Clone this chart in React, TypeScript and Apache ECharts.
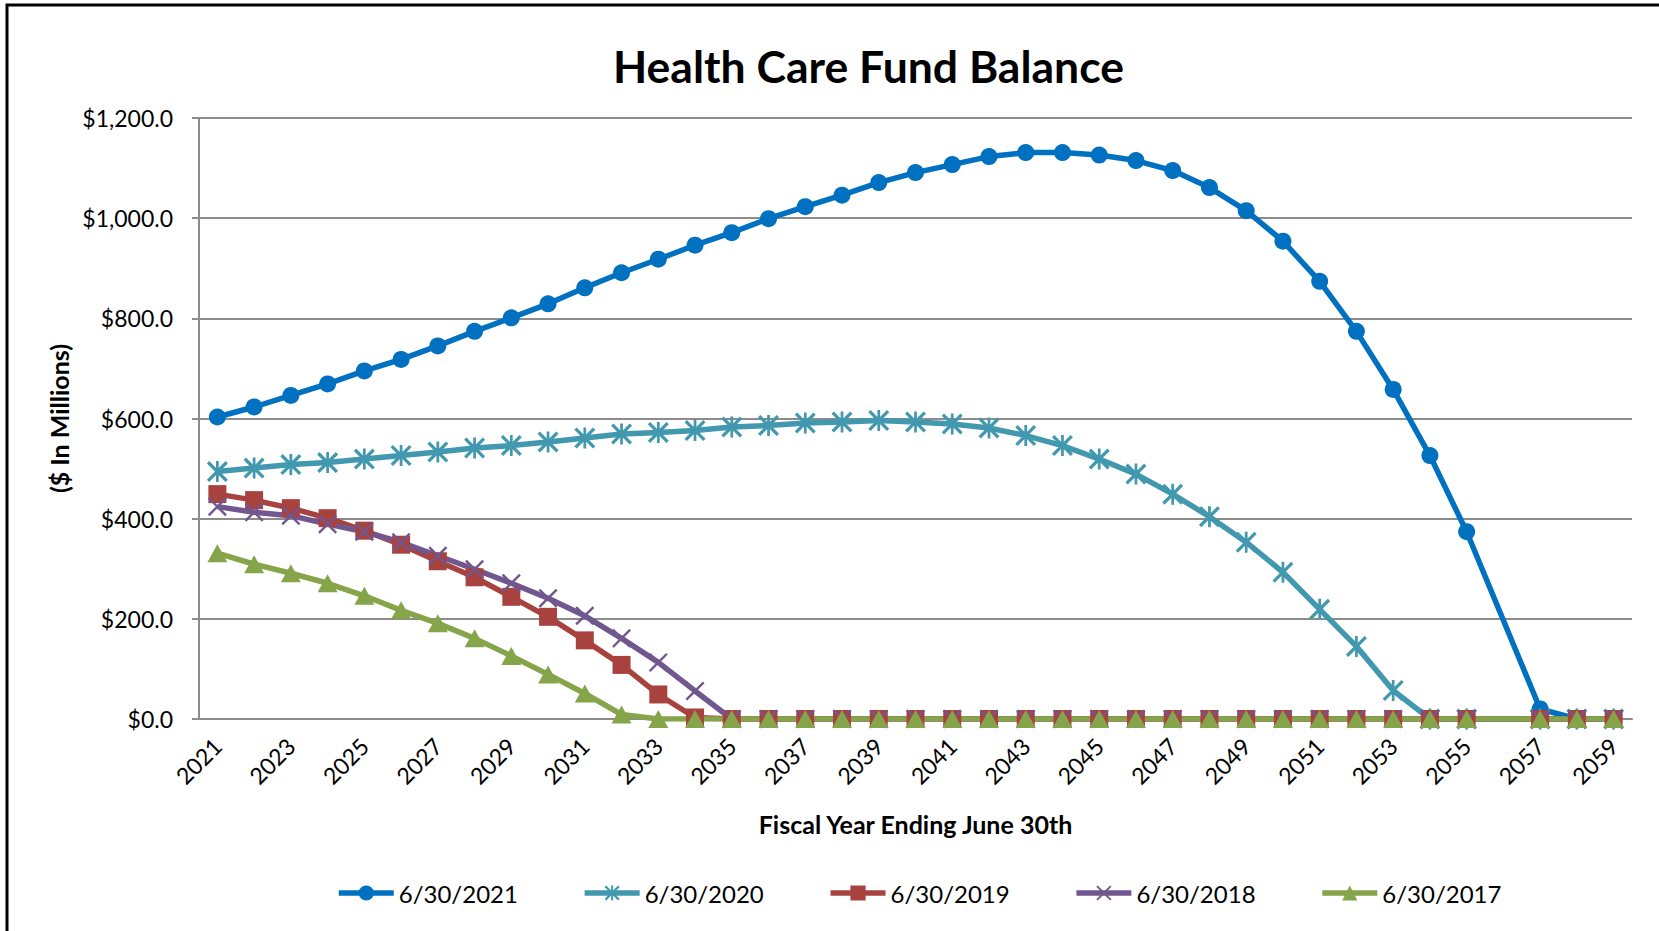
import React, { useEffect, useRef } from "react";
import * as echarts from "echarts";

const years = [
  "2021","2022","2023","2024","2025","2026","2027","2028","2029","2030",
  "2031","2032","2033","2034","2035","2036","2037","2038","2039","2040",
  "2041","2042","2043","2044","2045","2046","2047","2048","2049","2050",
  "2051","2052","2053","2054","2055","2056","2057","2058","2059",
];

const val2021 = [603,623,646,669,695,718,745,774,801,829, 861,891,918,946,971,999,1023,1046,1071,1091, 1107,1123,1131,1131,1126,1115,1095,1061,1015,954, 874,774,658,526,374,null,20,0,0];
const val2020 = [494,501,508,512,519,526,533,541,546,553, 561,569,572,576,583,586,591,593,596,593, 589,581,566,546,519,489,449,404,353,293, 219,145,57,0,0,null,0,0,0];
const val2019 = [449,437,421,401,376,348,315,283,244,204, 157,108,49,3,0,0,0,0,0,0, 0,0,0,0,0,0,0,0,0,0, 0,0,0,0,0,null,0,0,0];
const val2018 = [424,413,406,389,374,353,326,299,271,241, 206,161,113,56,0,0,0,0,0,0, 0,0,0,0,0,0,0,0,0,0, 0,0,0,0,0,null,0,0,0];
const val2017 = [331,309,291,271,246,217,191,161,126,89, 51,9,0,0,0,0,0,0,0,0, 0,0,0,0,0,0,0,0,0,0, 0,0,0,0,0,null,0,0,0];

const seriesNames = ["6/30/2021", "6/30/2020", "6/30/2019", "6/30/2018", "6/30/2017"];
const yTicks = [0, 200, 400, 600, 800, 1000, 1200];

const ASTERISK =
  "path://M0,2.2L2.2,0L20,17.8L17.8,20Z M17.8,0L20,2.2L2.2,20L0,17.8Z M8.7,0L11.3,0L11.3,20L8.7,20Z";
const XMARK = "path://M0,1.8L1.8,0L20,18.2L18.2,20Z M18.2,0L20,1.8L1.8,20L0,18.2Z";

const FONT = "Lato";

export default function App() {
  const ref = useRef<HTMLDivElement>(null);
  useEffect(() => {
    if (!ref.current) return;
    const chart = echarts.init(ref.current, null, { renderer: "svg" });
    const mk = (name: string, data: (number | null)[], color: string, symbol: string, size: any) => ({
      name,
      type: "line",
      data,
      connectNulls: true,
      symbol,
      symbolSize: size,
      lineStyle: { color, width: 5.5 },
      itemStyle: { color, borderWidth: 0 },
      emphasis: { disabled: true },
    });
    chart.setOption({
      animation: false,
      backgroundColor: "#ffffff",
      textStyle: { fontFamily: FONT },
      title: {
        text: "Health Care Fund Balance",
        left: 608,
        top: 38,
        textStyle: { fontFamily: FONT, fontWeight: "bold", fontSize: 44.5, color: "#000" },
      },
      graphic: [
        {
          type: "rect",
          shape: { x: 7, y: 5, width: 1700, height: 1000 },
          style: { fill: "none", stroke: "#000", lineWidth: 3 },
          silent: true,
        },
      ],
      grid: { left: 199, right: 27, top: 118, bottom: 212, containLabel: false },
      legend: {
        bottom: 21,
        left: 331,
        itemWidth: 55,
        itemHeight: 19,
        itemGap: 64,
        data: seriesNames,
        lineStyle: { width: 5.5 },
        textStyle: { fontFamily: FONT, fontSize: 24, color: "#000" },
      },
      xAxis: {
        type: "category",
        data: years,
        boundaryGap: true,
        name: "Fiscal Year Ending June 30th",
        nameLocation: "middle",
        nameGap: 92,
        nameTextStyle: { fontFamily: FONT, fontWeight: "bold", fontSize: 25, color: "#000" },
        axisLine: { lineStyle: { color: "#8c8c8c", width: 2 } },
        axisTick: { show: false },
        axisLabel: {
          interval: 1,
          rotate: 45,
          margin: 23,
          fontFamily: FONT,
          fontSize: 23,
          color: "#000",
        },
      },
      yAxis: {
        type: "value",
        min: 0,
        max: 1200,
        interval: 200,
        name: "($ In Millions)",
        nameLocation: "middle",
        nameGap: 126,
        nameTextStyle: { fontFamily: FONT, fontWeight: "bold", fontSize: 25, color: "#000" },
        axisLine: { show: true, lineStyle: { color: "#8c8c8c", width: 2 } },
        axisTick: { show: true, length: 7, lineStyle: { color: "#8c8c8c", width: 2 } },
        splitLine: { lineStyle: { color: "#8c8c8c", width: 2 } },
        axisLabel: {
          margin: 26,
          fontFamily: FONT,
          fontSize: 23,
          color: "#000",
          formatter: (v: number) =>
            yTicks.includes(v)
              ? "$" + v.toLocaleString("en-US", { minimumFractionDigits: 1, maximumFractionDigits: 1 })
              : "",
        },
      },
      series: [
        mk(seriesNames[0], val2021, "#0070C0", "circle", 17),
        mk(seriesNames[1], val2020, "#4198AF", ASTERISK, 21),
        mk(seriesNames[2], val2019, "#A8423F", "rect", 18),
        mk(seriesNames[3], val2018, "#71578F", XMARK, 19),
        mk(seriesNames[4], val2017, "#86A44A", "triangle", [20, 18]),
      ],
    });
    return () => chart.dispose();
  }, []);
  return (
    <div
      ref={ref}
      style={{ position: "fixed", left: 0, top: 0, width: 1659, height: 931, background: "#fff" }}
    />
  );
}
